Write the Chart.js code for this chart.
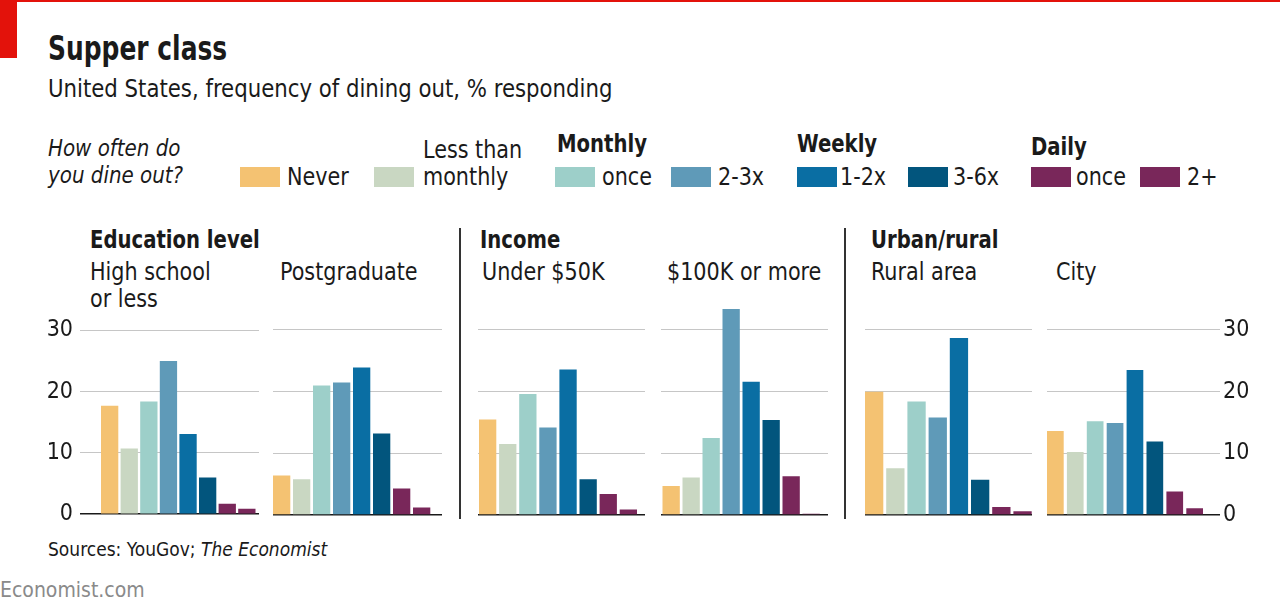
<!DOCTYPE html>
<html lang="en">
<head>
  <meta charset="UTF-8">
  <title>Supper class</title>
  <script src="https://cdn.jsdelivr.net/npm/chart.js"></script>
  <style>
    body {
      margin: 0;
      width: 1280px;
      height: 611px;
      background: #fff;
      position: relative;
      overflow: hidden;
      font-family: "Liberation Sans Narrow", "DejaVu Sans Condensed", "Roboto Condensed", "Liberation Sans", sans-serif;
      color: #1a1a1a;
    }
    .t {
      position: absolute;
      white-space: nowrap;
      line-height: 1;
      transform-origin: 0 0;
      transform: scaleX(0.96);
    }
    .b { font-weight: bold; transform: scaleX(0.91); }
    .i { font-style: italic; }
    .sw {
      position: absolute;
      width: 40px;
      height: 20px;
    }
    .sep {
      position: absolute;
      width: 2px;
      background: #333;
      top: 228px;
      height: 291px;
    }
    canvas { position: absolute; }
  </style>
</head>
<body>
  <div style="position:absolute;left:0;top:0;width:1280px;height:2px;background:#e3120b"></div>
  <div style="position:absolute;left:0;top:0;width:17px;height:58px;background:#e3120b"></div>

  <div class="t b" style="left:48px;top:32px;font-size:33px;transform:scaleX(0.84)">Supper class</div>
  <div class="t" style="left:48px;top:76px;font-size:25px;transform:scaleX(0.945)">United States, frequency of dining out, % responding</div>

  <div class="t i" style="left:48px;top:137px;font-size:23px">How often do</div>
  <div class="t i" style="left:48px;top:164px;font-size:23px">you dine out?</div>

  <div class="sw" style="left:240px;top:167px;background:#f4c272"></div>
  <div class="t" style="left:287px;top:165px;font-size:24px">Never</div>
  <div class="sw" style="left:374px;top:167px;background:#c9d7c2"></div>
  <div class="t" style="left:423px;top:138px;font-size:24px">Less than</div>
  <div class="t" style="left:423px;top:165px;font-size:24px">monthly</div>

  <div class="t b" style="left:557px;top:132px;font-size:24px">Monthly</div>
  <div class="sw" style="left:555px;top:167px;background:#9dcfc9"></div>
  <div class="t" style="left:602px;top:165px;font-size:24px">once</div>
  <div class="sw" style="left:671px;top:167px;background:#5f9ab8"></div>
  <div class="t" style="left:718px;top:165px;font-size:24px">2-3x</div>

  <div class="t b" style="left:797px;top:132px;font-size:24px">Weekly</div>
  <div class="sw" style="left:797px;top:167px;background:#0a6ea3"></div>
  <div class="t" style="left:840px;top:165px;font-size:24px">1-2x</div>
  <div class="sw" style="left:908px;top:167px;background:#02557d"></div>
  <div class="t" style="left:953px;top:165px;font-size:24px">3-6x</div>

  <div class="t b" style="left:1031px;top:135px;font-size:24px">Daily</div>
  <div class="sw" style="left:1031px;top:167px;background:#79275a"></div>
  <div class="t" style="left:1076px;top:165px;font-size:24px">once</div>
  <div class="sw" style="left:1140px;top:167px;background:#79275a"></div>
  <div class="t" style="left:1187px;top:165px;font-size:24px">2+</div>

  <div class="t b" style="left:90px;top:228px;font-size:24px">Education level</div>
  <div class="t" style="left:90px;top:260px;font-size:24px">High school</div>
  <div class="t" style="left:90px;top:287px;font-size:24px">or less</div>
  <div class="t" style="left:280px;top:260px;font-size:24px">Postgraduate</div>

  <div class="t b" style="left:480px;top:228px;font-size:24px">Income</div>
  <div class="t" style="left:482px;top:260px;font-size:24px">Under $50K</div>
  <div class="t" style="left:667px;top:260px;font-size:24px">$100K or more</div>

  <div class="t b" style="left:871px;top:228px;font-size:24px">Urban/rural</div>
  <div class="t" style="left:871px;top:260px;font-size:24px">Rural area</div>
  <div class="t" style="left:1056px;top:260px;font-size:24px">City</div>

  <div class="sep" style="left:459px"></div>
  <div class="sep" style="left:844px"></div>

  <canvas id="p1"></canvas>
  <canvas id="p2"></canvas>
  <canvas id="p3"></canvas>
  <canvas id="p4"></canvas>
  <canvas id="p5"></canvas>
  <canvas id="p6"></canvas>

  <div class="t" style="left:48px;top:540px;font-size:19px;transform:none">Sources: YouGov; <span class="i">The Economist</span></div>
  <div class="t" style="left:0px;top:580px;font-size:21px;color:#8a8a8a;transform:none">Economist.com</div>

  <script>
    // categories (frequency of dining out)
    const categories = ["Never", "Less than monthly", "Monthly once", "Monthly 2-3x",
                        "Weekly 1-2x", "Weekly 3-6x", "Daily once", "Daily 2+"];
    const colours = ["#f4c272", "#c9d7c2", "#9dcfc9", "#5f9ab8",
                     "#0a6ea3", "#02557d", "#79275a", "#79275a"];

    // % responding
    const highSchool   = [17.7, 10.7, 18.4, 25.0, 13.1, 6.0, 1.7, 0.9];
    const postgraduate = [6.4, 5.8, 21.0, 21.5, 23.9, 13.2, 4.3, 1.2];
    const under50k     = [15.5, 11.5, 19.6, 14.2, 23.6, 5.8, 3.4, 0.9];
    const over100k     = [4.7, 6.1, 12.5, 33.4, 21.6, 15.4, 6.3, 0.2];
    const rural        = [20.0, 7.6, 18.4, 15.8, 28.7, 5.7, 1.3, 0.6];
    const city         = [13.6, 10.2, 15.2, 14.9, 23.5, 11.9, 3.8, 1.1];

    const yTicks = [0, 10, 20, 30];

    const font = '"Liberation Sans Narrow", "DejaVu Sans Condensed", "Roboto Condensed", "Liberation Sans", sans-serif';

    // panel layout: canvas left, plot left/right, first bar left edge, bar width, bar pitch, axis side
    const panels = [
      { id: "p1", data: highSchool,   left: 40,   plotL: 80,   plotR: 259,  bar0: 101,  bw: 17.3, pitch: 19.6, axis: "left" },
      { id: "p2", data: postgraduate, left: 273,  plotL: 273,  plotR: 442,  bar0: 273,  bw: 17.3, pitch: 20.0, axis: null },
      { id: "p3", data: under50k,     left: 478,  plotL: 478,  plotR: 645,  bar0: 479,  bw: 17.3, pitch: 20.1, axis: null },
      { id: "p4", data: over100k,     left: 661,  plotL: 661,  plotR: 828,  bar0: 662.5,bw: 17.3, pitch: 20.0, axis: null },
      { id: "p5", data: rural,        left: 865,  plotL: 865,  plotR: 1032, bar0: 865,  bw: 18.3, pitch: 21.2, axis: null },
      { id: "p6", data: city,         left: 1047, plotL: 1047, plotR: 1220, bar0: 1047, bw: 16.7, pitch: 19.9, axis: "right" }
    ];

    const canvasTop = 285;
    const canvasH = 250;
    const padTop = 20.3;   // 34 -> y 305.3
    const padBottom = 20;  // 0 -> y 515

    panels.forEach(p => {
      const axisW = p.axis ? 40 : 0;
      const width = (p.plotR - p.plotL) + axisW;
      const cv = document.getElementById(p.id);
      cv.width = width;
      cv.height = canvasH;
      cv.style.left = p.left + "px";
      cv.style.top = canvasTop + "px";

      const centre0 = p.bar0 + p.bw / 2;
      const xMin = -(centre0 - p.plotL) / p.pitch;
      const xMax = (p.plotR - centre0) / p.pitch;

      new Chart(cv, {
        type: "bar",
        data: {
          datasets: [{
            label: p.id,
            data: p.data.map((v, i) => ({ x: i, y: v })),
            backgroundColor: colours,
            borderWidth: 0,
            categoryPercentage: 1,
            barPercentage: p.bw / p.pitch
          }]
        },
        options: {
          responsive: false,
          animation: false,
          devicePixelRatio: 1,
          layout: { padding: { top: padTop, bottom: padBottom, left: 0, right: 0 } },
          plugins: { legend: { display: false }, tooltip: { enabled: false } },
          scales: {
            x: {
              type: "linear",
              min: xMin,
              max: xMax,
              offset: false,
              display: false
            },
            y: {
              position: p.axis || "left",
              min: 0,
              max: 34,
              afterBuildTicks: s => { s.ticks = yTicks.map(v => ({ value: v })); },
              afterFit: s => { s.width = axisW; },
              border: { display: false },
              grid: {
                drawTicks: false,
                color: c => c.tick.value === 0 ? "#1a1a1a" : "#c6c6c6",
                lineWidth: c => c.tick.value === 0 ? 1.6 : 1
              },
              ticks: {
                display: !!p.axis,
                padding: p.axis === "right" ? 3 : 7,
                color: "#1a1a1a",
                font: { family: font, size: 23 }
              }
            }
          }
        }
      });
    });
  </script>
</body>
</html>
